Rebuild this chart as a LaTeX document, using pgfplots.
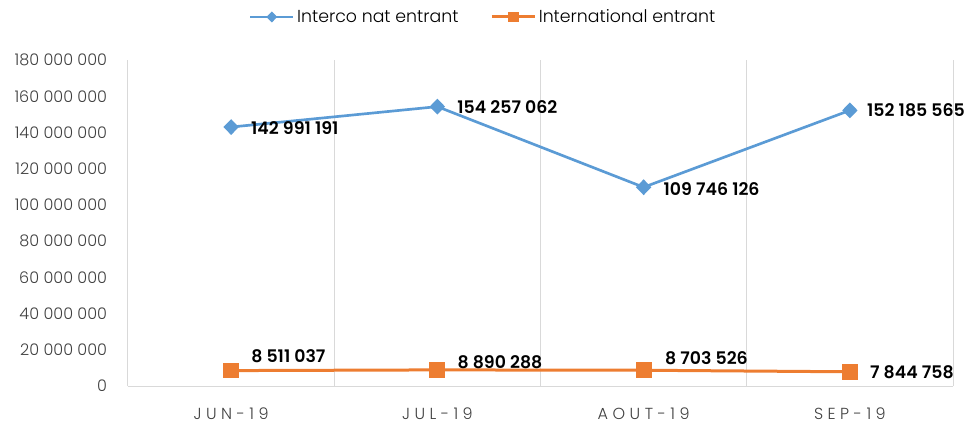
\documentclass[border=0pt]{standalone}
\usepackage{pgfplots}
\pgfplotsset{compat=1.18}
\usepackage{pgfplotstable}
\usepackage{fontspec}
\setmainfont{Poppins}
\newfontfamily\lightfont{Poppins Light}
\newfontfamily\semifont{Poppins SemiBold}
\definecolor{cblue}{HTML}{5B9BD5}
\definecolor{corange}{HTML}{ED7D31}
\definecolor{gridc}{HTML}{D9D9D9}
\definecolor{tickc}{HTML}{404040}

\pgfplotstableread[col sep=comma]{
x,y,lab,dx,dy
1,142991191,142 991 191,14,-1
2,154257062,154 257 062,14,0
3,109746126,109 746 126,14,-1.5
4,152185565,152 185 565,12,0
}\bluedata
\pgfplotstableread[col sep=comma]{
x,y,lab,dx,dy
1,8511037,8 511 037,14,10.5
2,8890288,8 890 288,14,6
3,8703526,8 703 526,15,9
4,7844758,7 844 758,14,0
}\orangedata

\begin{document}
\begin{tikzpicture}
\useasboundingbox (0,0) rectangle (725.25pt,319.5pt);
\begin{axis}[
  at={(96pt,30pt)}, anchor=south west,
  scale only axis, width=618.75pt, height=244.5pt,
  xmin=0.5, xmax=4.5, ymin=0, ymax=180000000,
  clip=false,
  xtick={1,2,3,4}, xticklabels={JUN-19,JUL-19,AOUT-19,SEP-19},
  minor xtick={0.5,1.5,2.5,3.5,4.5}, xminorgrids,
  minor grid style={gridc, line width=0.75pt},
  ytick={0,20000000,40000000,60000000,80000000,100000000,120000000,140000000,160000000,180000000},
  axis x line*=bottom, axis y line*=left,
  axis line style={gridc, line width=0.75pt, -},
  major tick length=0pt, minor tick length=0pt,
  scaled y ticks=false,
  /pgf/number format/fixed,
  /pgf/number format/1000 sep={\ },
  /pgf/number format/assume math mode=true,
  y tick label style={inner sep=0pt, anchor=east, xshift=-15.5pt, font=\lightfont\fontsize{12}{14}\selectfont, color=tickc},
  x tick label style={inner sep=0pt, anchor=north, yshift=-16.5pt, font=\lightfont\addfontfeature{LetterSpace=28}\fontsize{12}{14}\selectfont, color=tickc},
  legend style={at={(0.431,1.132)}, anchor=center, draw=none, legend columns=2,
    font=\lightfont\fontsize{13}{15}\selectfont, text=black,
    /tikz/every even column/.append style={column sep=22pt}},
  legend cell align=left,
  legend image code/.code={\draw[mark repeat=2, mark phase=2, every mark/.append style={scale=0.6}] plot coordinates {(0pt,0pt) (16pt,0pt) (32pt,0pt)};},
  nodes near coords={\pgfplotspointmeta},
  point meta=explicit symbolic,
  visualization depends on={\thisrow{dy} \as \dy},
  visualization depends on={\thisrow{dx} \as \dx},
  nodes near coords style={anchor=west, inner sep=0pt, xshift=\dx pt, yshift=\dy pt, font=\semifont\fontsize{13}{15}\selectfont, text=black},
]
\addplot[color=cblue, line width=2pt, mark=diamond*, mark size=4.5pt, mark options={xscale=1.3}] table[x=x, y=y, meta=lab] {\bluedata};
\addlegendentry{Interco nat entrant}
\addplot[color=corange, line width=2.25pt, mark=square*, mark size=4.8pt] table[x=x, y=y, meta=lab] {\orangedata};
\addlegendentry{International entrant}
\end{axis}
\end{tikzpicture}
\end{document}
